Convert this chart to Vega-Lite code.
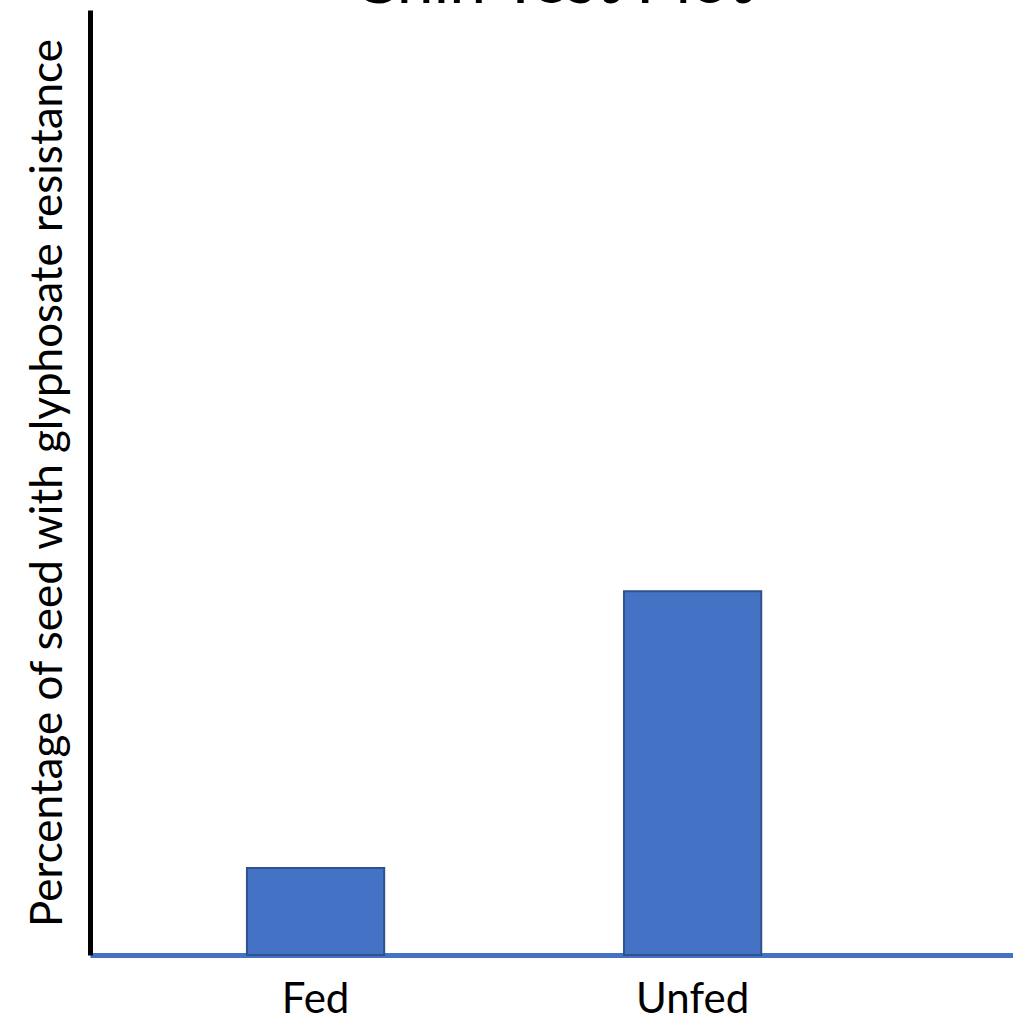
{
  "$schema": "https://vega.github.io/schema/vega-lite/v6.json",
  "autosize": {"type": "none"},
  "padding": {"left": 90, "top": 10, "right": 0, "bottom": 66},
  "width": 923,
  "height": 945,
  "background": "white",
  "data": {
    "values": [
      {"group": "Fed", "percent": 9.2},
      {"group": "Unfed", "percent": 38.5}
    ]
  },
  "layer": [
    {
      "mark": {"type": "bar", "color": "#4472C4", "stroke": "#2F528F", "strokeWidth": 2},
      "encoding": {
        "x": {
          "field": "group",
          "type": "nominal",
          "sort": ["Fed", "Unfed"],
          "scale": {"paddingInner": 0.636, "paddingOuter": 0.542, "align": 0.384},
          "axis": {
            "title": null,
            "orient": "bottom",
            "labelAngle": 0,
            "labelFont": "Lato",
            "labelFontSize": 42,
            "labelColor": "black",
            "labelPadding": 24,
            "ticks": false,
            "domainColor": "#4472C4",
            "domainWidth": 5,
            "grid": false
          }
        },
        "y": {
          "field": "percent",
          "type": "quantitative",
          "scale": {"domain": [0, 100]},
          "axis": {
            "title": "Percentage of seed with glyphosate resistance",
            "titleFont": "Lato",
            "titleFontSize": 44,
            "titleFontWeight": "normal",
            "titleColor": "black",
            "titlePadding": 20,
            "labels": false,
            "ticks": false,
            "grid": false,
            "domainColor": "black",
            "domainWidth": 5
          }
        }
      }
    },
    {
      "mark": {"type": "bar", "opacity": 0},
      "encoding": {
        "x": {
          "field": "group",
          "type": "nominal",
          "sort": ["Fed", "Unfed"],
          "axis": {
            "orient": "top",
            "title": "Chin Test Plot",
            "titleFont": "Lato",
            "titleFontSize": 66,
            "titleFontWeight": "normal",
            "titleColor": "black",
            "titleBaseline": "alphabetic",
            "titlePadding": 8,
            "titleLimit": 2000,
            "labels": false,
            "ticks": false,
            "domain": false,
            "grid": false
          }
        }
      }
    }
  ],
  "resolve": {"axis": {"x": "independent"}},
  "config": {"view": {"stroke": null}}
}
